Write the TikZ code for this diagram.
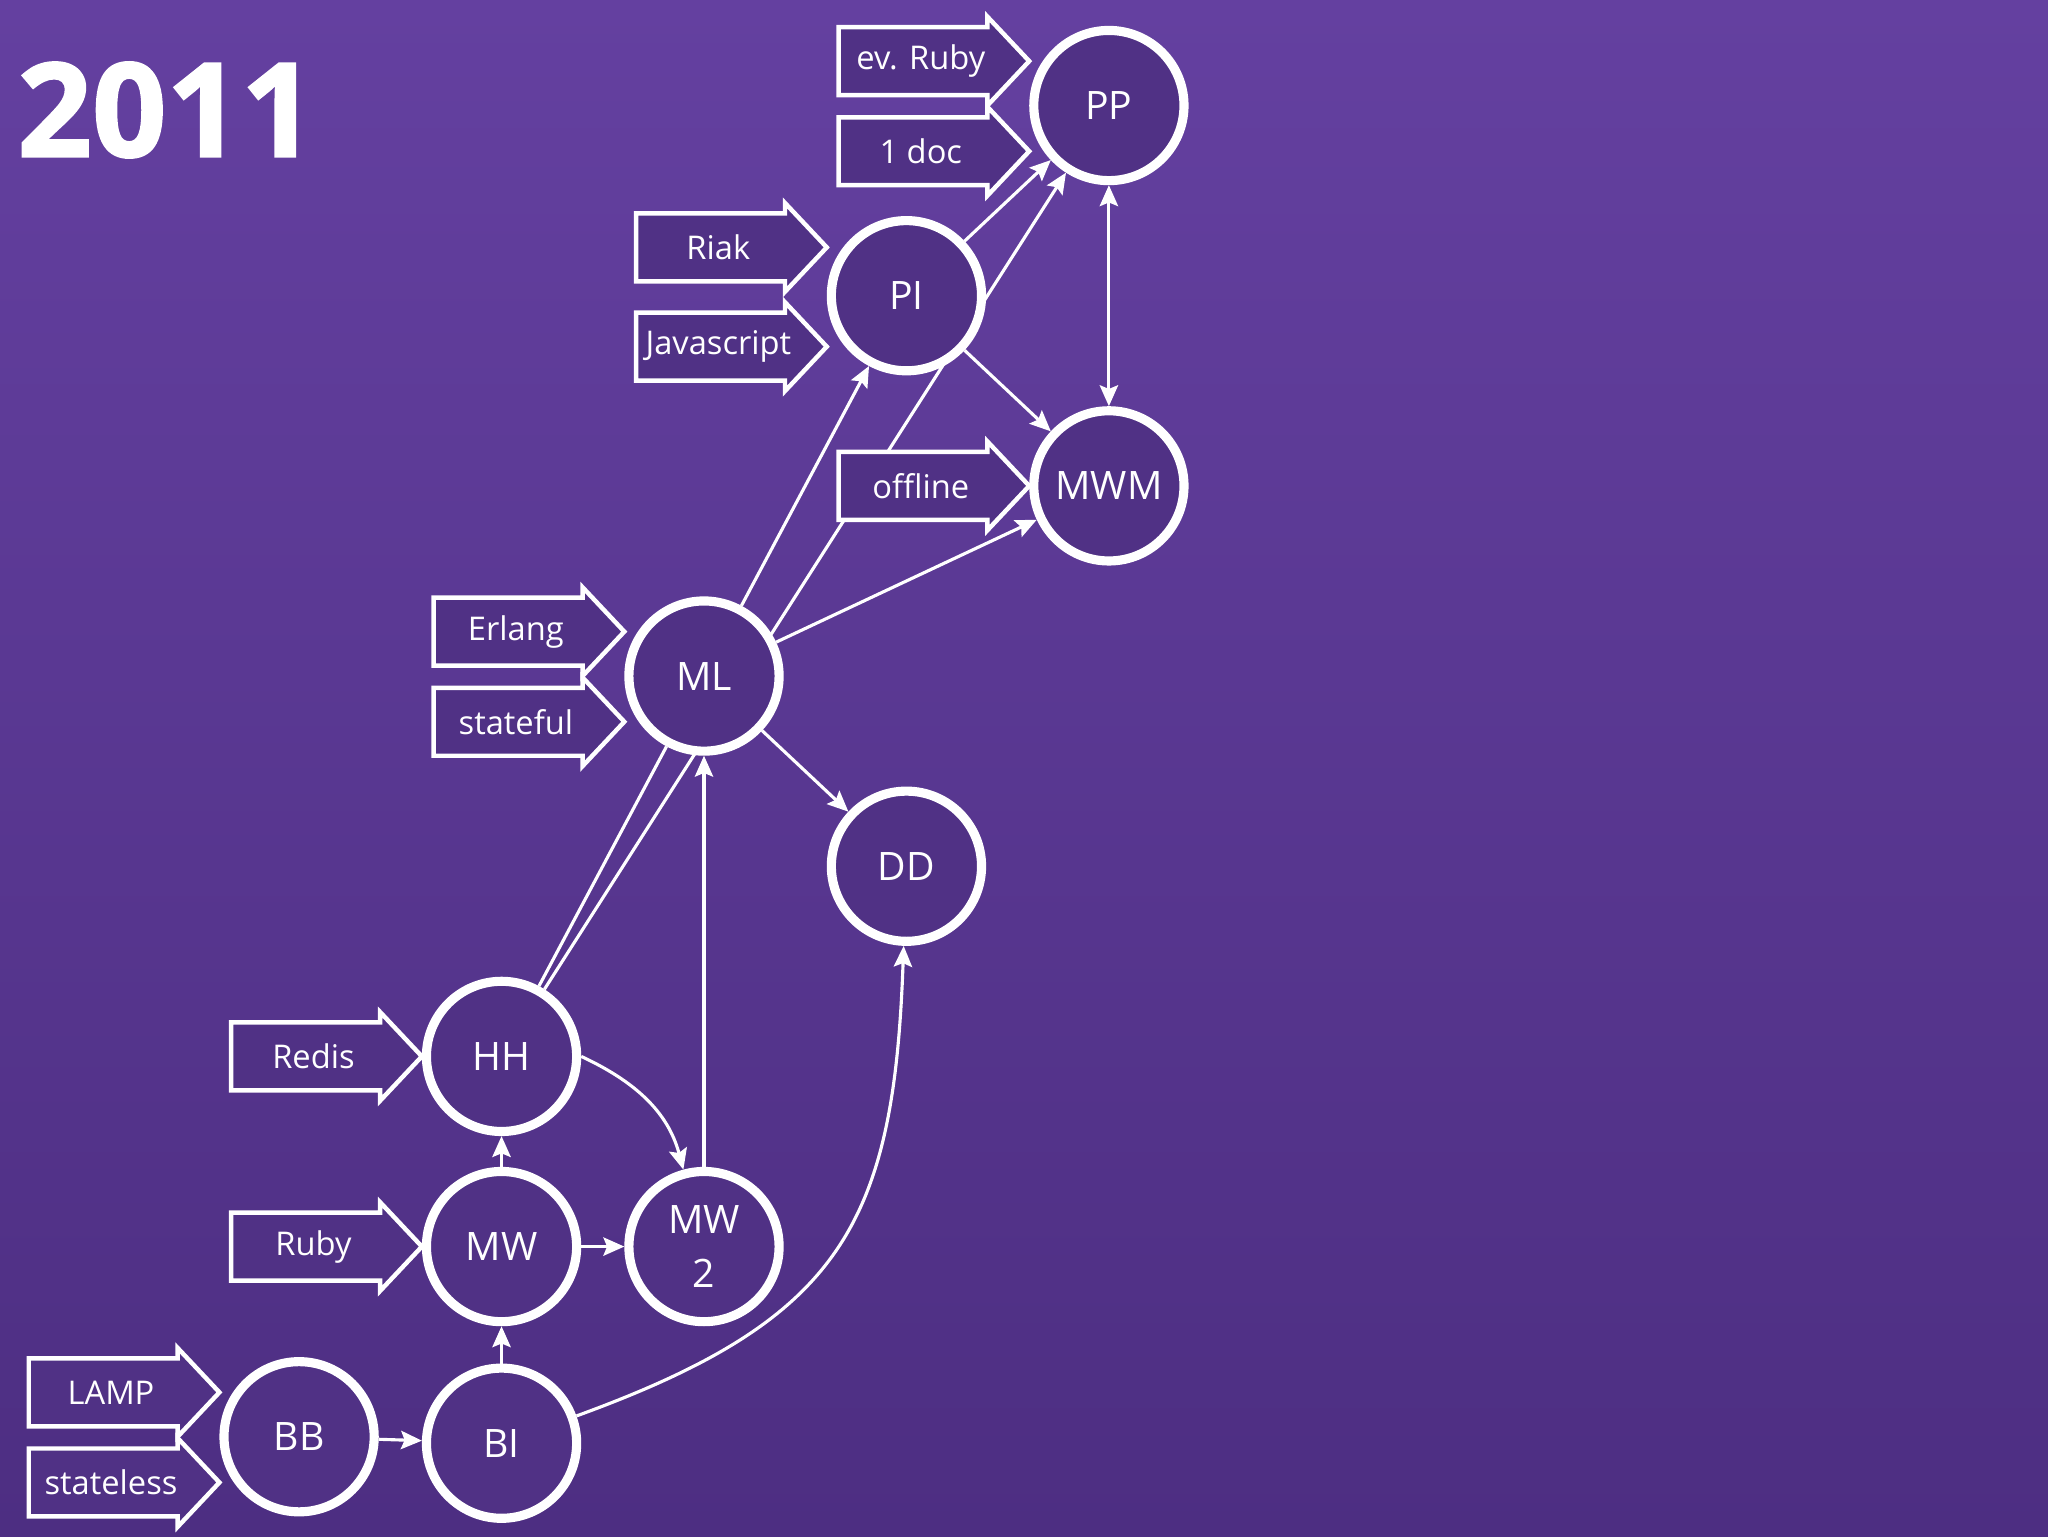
\documentclass[tikz,border=0pt]{standalone}
\usepackage{fontspec}
\setmainfont{Open Sans}
\newfontfamily\yearfont[BoldFeatures={FakeBold=1.5}]{Open Sans}
\usetikzlibrary{arrows.meta,calc}

\definecolor{bgtop}{RGB}{100,64,160}
\definecolor{bgbottom}{RGB}{77,46,130}
\definecolor{nodefill}{RGB}{80,49,133}

\pgfdeclarelayer{background}
\pgfdeclarelayer{edges}
\pgfsetlayers{background,edges,main}

\tikzset{
  station/.style={circle,draw=white,line width=3.5pt,fill=nodefill,text=white,
    minimum size=57.5pt,inner sep=0pt,align=center,font=\fontsize{15}{20.5}\selectfont},
  tagline/.style={draw=white,fill=nodefill,line width=1.7pt},
  tagtext/.style={text=white,inner sep=0pt,font=\fontsize{12.5}{15}\selectfont},
}

\newcommand\tagarrow[3]{%
  \coordinate (#1) at (#2);
  \filldraw[tagline] (#1) -- ++(-16pt,17pt) -- ++(0,-4pt) -- ++(-57pt,0)
    -- ++(0,-26pt) -- ++(57pt,0) -- ++(0,-4pt) -- cycle;
  \node[tagtext] (#1-text) at ([xshift=-41.5pt]#1) {#3};}

\begin{document}
\begin{tikzpicture}[x=77.5pt,y=72.8pt,>={Stealth[length=8pt,width=7pt,inset=1.4pt]}]
\begin{pgfonlayer}{background}
  \shade[top color=bgtop,bottom color=bgbottom] (-1.4774,-0.522) rectangle (8.6387,7.555);
\end{pgfonlayer}
\useasboundingbox (-1.4774,-0.522) rectangle (8.6387,7.555);

\node [anchor=base west,inner sep=0pt,text=white,font=\fontsize{50}{50}\selectfont\yearfont\bfseries]
  at (-1.394,6.731) (year) {2011};

  \begin{scope}[every node/.style=station]
    \node at (0,0) (bb) {BB};
    \node at (1,-0.034) (bi) {BI};
    \node at (1,1) (mw) {MW};
    \node at (2,1) (mwtwo) {MW\\2};
    \node at (1,2) (hh) {HH};
    \node at (3,3) (dd) {DD};
    \node at (2,4) (ml) {ML};
    \node at (4,5) (mwm) {MWM};
    \node at (3,6) (pi) {PI};
    \node at (4,7) (pp) {PP};
  \end{scope}

  \tagarrow{evruby}{[yshift=17pt]pp.west}{ev. Ruby}
  \tagarrow{onedoc}{[yshift=-17.5pt]pp.west}{1 doc}
  \tagarrow{riak}{[yshift=18.5pt]pi.west}{Riak}
  \tagarrow{javascript}{[yshift=-19.5pt]pi.west}{Javascript}
  \tagarrow{offline}{mwm.west}{offline}
  \tagarrow{erlang}{[yshift=17pt]ml.west}{Erlang}
  \tagarrow{stateful}{[yshift=-17.5pt]ml.west}{stateful}
  \tagarrow{redis}{hh.west}{Redis}
  \tagarrow{ruby}{mw.west}{Ruby}
  \tagarrow{lamp}{[yshift=17pt]bb.west}{LAMP}
  \tagarrow{stateless}{[yshift=-17.5pt]bb.west}{stateless}

\begin{pgfonlayer}{edges}
  \begin{scope}[every path/.style={draw=white,line width=1.2pt,->}]
    \path (bb) -- (bi);
    \path (bi) -- (mw);
    \path (mw) -- (hh);
    \path (mw) -- (mwtwo);
    \path (hh.east) to[out=-25,in=105] (mwtwo);
    \path (mwtwo) -- (ml);
    \path[-] (hh) -- (ml);
    \path (hh) -- (pp);
    \path (bi) to[out=20,in=-92,looseness=1.25] (dd);
    \path (ml) -- (dd);
    \path (ml) -- (pi);
    \path (ml) -- (mwm);
    \path (pi) -- (mwm);
    \path (pi) -- (pp);
    \path[<->] (pp) -- (mwm);
  \end{scope}
\end{pgfonlayer}
\end{tikzpicture}
\end{document}
